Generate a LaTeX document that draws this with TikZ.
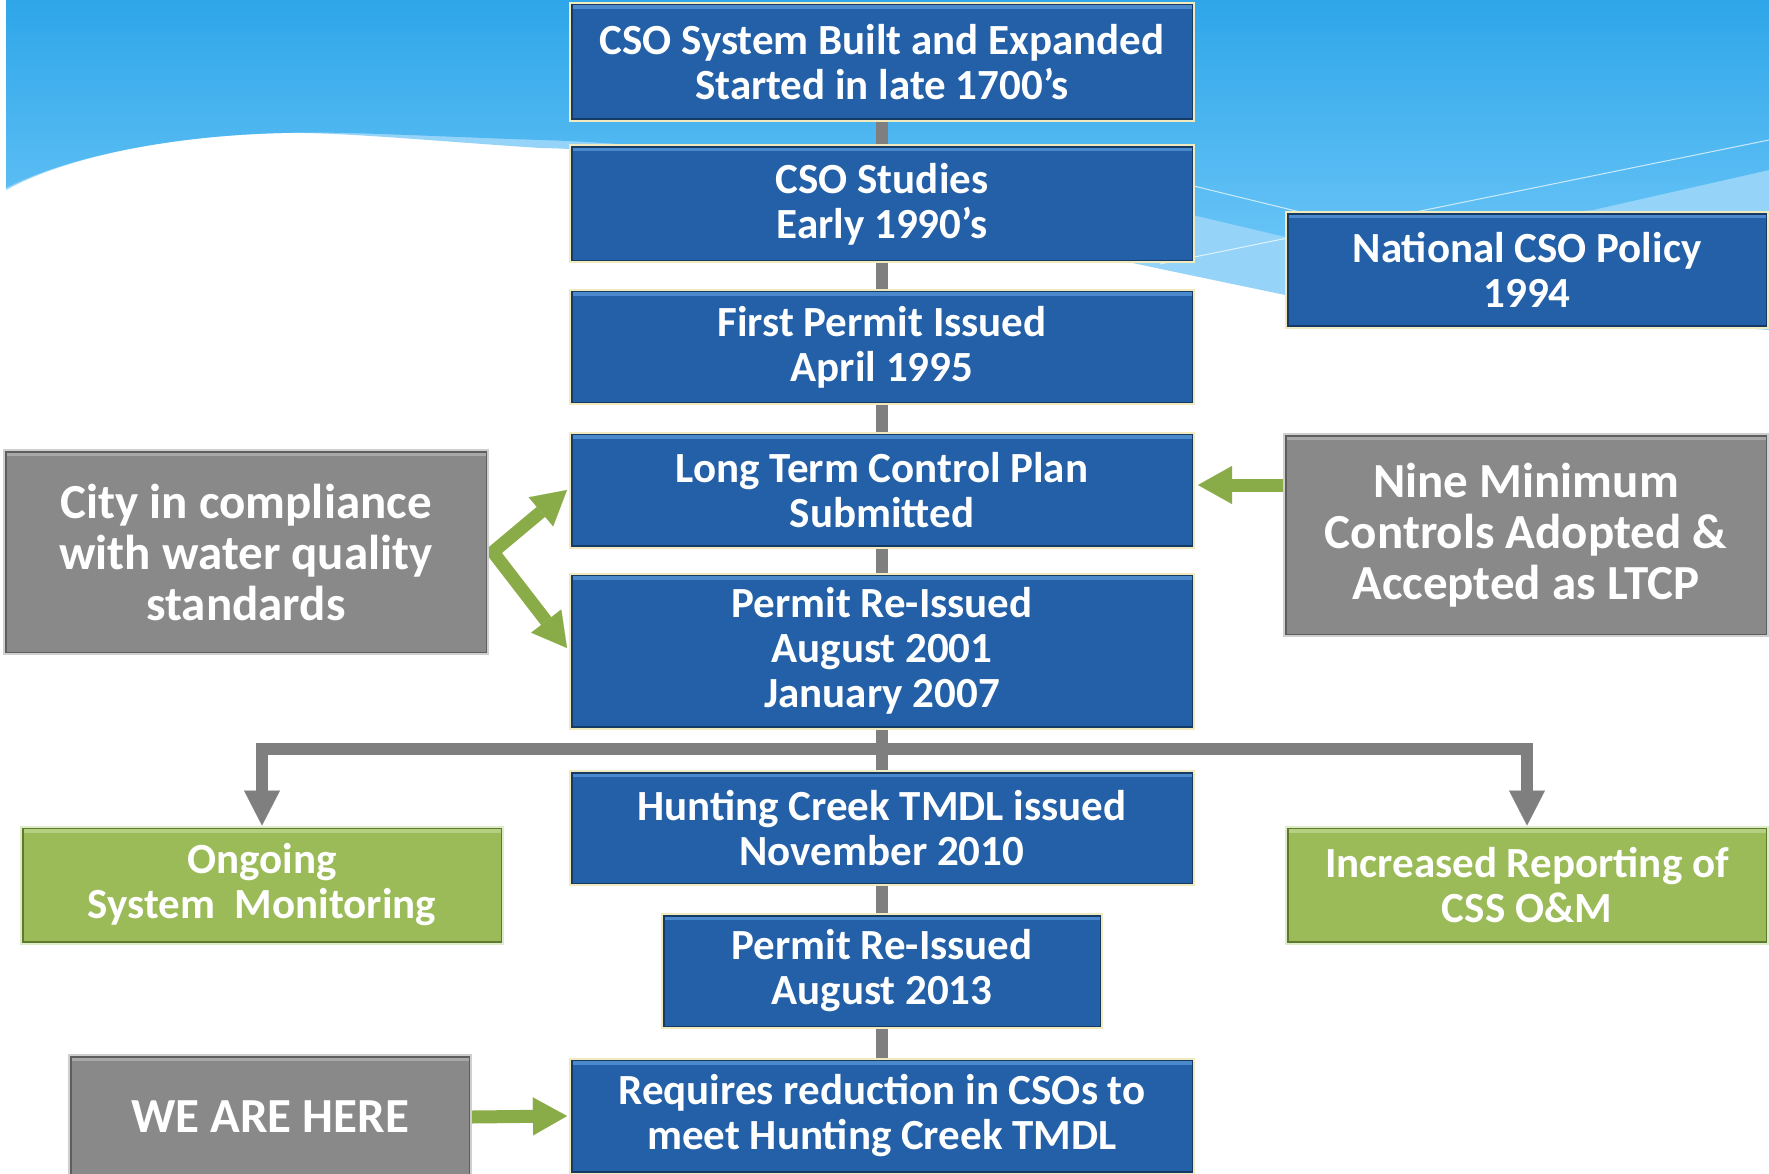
\documentclass[tikz,border=0pt]{standalone}
\usepackage{fontspec}
\setmainfont{Carlito}
\usetikzlibrary{arrows.meta,calc}
\pgfdeclarelayer{sky}
\pgfdeclarelayer{lines}
\pgfsetlayers{sky,lines,main}

\definecolor{skytop}{HTML}{2EA6E9}
\definecolor{skybot}{HTML}{66C3F6}
\definecolor{skyband}{HTML}{95D4F8}
\definecolor{boxblue}{HTML}{2360A8}
\definecolor{blueedge}{HTML}{163A66}
\definecolor{bluetop}{HTML}{4C88CC}
\definecolor{paleyellow}{HTML}{F2EABF}
\definecolor{boxgray}{HTML}{898989}
\definecolor{grayedge}{HTML}{5E5E5E}
\definecolor{graytop}{HTML}{A8A8A8}
\definecolor{grayrim}{HTML}{CFCFCF}
\definecolor{boxgreen}{HTML}{9BBB59}
\definecolor{greenedge}{HTML}{5F7A2D}
\definecolor{greentop}{HTML}{B5D080}
\definecolor{greenrim}{HTML}{DCEBC8}
\definecolor{conngray}{HTML}{7F7F7F}
\definecolor{arrowgreen}{HTML}{8AAC48}

\tikzset{
  bevel/.style n args={3}{
    fill=#1,
    path picture={
      \fill[#2] (path picture bounding box.north west)
        rectangle ([yshift=-6pt]path picture bounding box.north east);
      \draw[#3, line width=5pt] (path picture bounding box.south west)
        rectangle (path picture bounding box.north east);
    }},
  card/.style={rectangle, inner sep=0pt, align=center, text=white,
    line width=2pt},
  bluebox/.style={card, draw=paleyellow, bevel={boxblue}{bluetop}{blueedge},
    font=\bfseries\fontsize{43}{45}\selectfont},
  graybox/.style={card, draw=grayrim, bevel={boxgray}{graytop}{grayedge},
    font=\bfseries\fontsize{49}{51}\selectfont},
  greenbox/.style={card, draw=greenrim, bevel={boxgreen}{greentop}{greenedge},
    font=\bfseries\fontsize{43}{45}\selectfont},
  conn/.style={draw=conngray, line width=12pt},
  graytip/.style={conn, line join=miter,
    -{Triangle[width=36pt,length=35pt,line width=0.1pt]}},
  greentip/.tip={Triangle[width=38pt,length=34pt,line width=0.1pt]},
  garrow/.style={draw=arrowgreen, line width=13pt, line join=miter}
}

\begin{document}
\begin{tikzpicture}[x=1pt,y=-1pt]
\useasboundingbox (0,0) rectangle (1769,1174);

% sky and wave
\begin{pgfonlayer}{sky}
  \fill[white] (0,0) rectangle (1769,1174);
  \fill[skyband] (6,0) -- (1769,0) -- (1769,330) -- (1290,296) -- (1180,273)
    .. controls (900,215) and (700,150) .. (540,148)
    .. controls (420,140) and (340,132) .. (282,133)
    .. controls (160,136) and (60,160) .. (6,190) -- cycle;
  \shade[top color=skytop, bottom color=skybot] (6,0) -- (1769,0) -- (1769,170)
    -- (1593,210) -- (1290,238) -- (1180,212)
    .. controls (950,185) and (720,145) .. (540,140)
    .. controls (420,136) and (340,131) .. (282,133)
    .. controls (160,136) and (60,160) .. (6,188) -- cycle;
  \draw[white, opacity=0.7, line width=1pt] (1120,168) -- (1300,212);
  \draw[white, opacity=0.7, line width=1pt] (1160,264) -- (1769,140);
\end{pgfonlayer}

% main column
\node[bluebox, minimum width=624pt, minimum height=118pt] (b1) at (882,62)
  {CSO System Built and Expanded\\Started in late 1700’s};
\node[bluebox, minimum width=624pt, minimum height=117pt] (b2) at (882,204)
  {CSO Studies\\Early 1990’s};
\node[bluebox, minimum width=624pt, minimum height=114pt] (b3) at (882,347)
  {First Permit Issued\\April 1995};
\node[bluebox, minimum width=624pt, minimum height=115pt] (b4) at (882,490)
  {Long Term Control Plan\\Submitted};
\node[bluebox, minimum width=624pt, minimum height=155pt] (b5) at (882,651)
  {Permit Re-Issued\\August 2001\\January 2007};
\node[bluebox, minimum width=624pt, minimum height=114pt] (b6) at (882,828)
  {Hunting Creek TMDL issued\\November 2010};
\node[bluebox, minimum width=440pt, minimum height=114pt] (b7) at (882,971)
  {Permit Re-Issued\\August 2013};
\node[bluebox, minimum width=624pt, minimum height=115pt] (b8) at (882,1116)
  {Requires reduction in CSOs to\\meet Hunting Creek TMDL};

% side boxes
\node[bluebox, minimum width=482pt, minimum height=115pt] (nat) at (1527,270)
  {National CSO Policy\\1994};
\node[graybox, minimum width=484pt, minimum height=202pt] (nine) at (1526,535)
  {Nine Minimum\\Controls Adopted \&\\Accepted as LTCP};
\node[graybox, minimum width=484pt, minimum height=204pt] (city) at (246,552)
  {City in compliance\\with water quality\\standards};
\node[greenbox, minimum width=482pt, minimum height=117pt] (ong) at (262,885)
  {Ongoing\\System\ \ Monitoring};
\node[greenbox, minimum width=482pt, minimum height=117pt] (inc) at (1527,885)
  {Increased Reporting of\\CSS O\&M};
\node[graybox, minimum width=402pt, minimum height=124pt] (here) at (270,1117)
  {WE ARE HERE};

\coordinate (split) at (882,749);
\coordinate (ltcpin) at ($(b4.east)+(3,-5)$);

% connectors
\begin{pgfonlayer}{lines}
  \draw[conn] (b1) -- (b2);
  \draw[conn] (b2) -- (b3);
  \draw[conn] (b3) -- (b4);
  \draw[conn] (b4) -- (b5);
  \draw[conn] (b5) -- (b6);
  \draw[conn] (b6) -- (b7);
  \draw[conn] (b7) -- (b8);
  \draw[graytip] (split) -| (ong.north);
  \draw[graytip] (split) -| (inc.north);
  \draw[garrow, -{greentip}] (ltcpin -| nine.west) -- (ltcpin);
  \draw[garrow, {greentip}-{greentip}] ($(b4.west)+(-2,0)$)
    -- ($(city.east)+(4,0)$) -- ($(b5.west)+(-2,-3)$);
  \draw[garrow, -{greentip}] (here.east) -- ($(b8.west)+(-2,0)$);
\end{pgfonlayer}
\end{tikzpicture}
\end{document}
